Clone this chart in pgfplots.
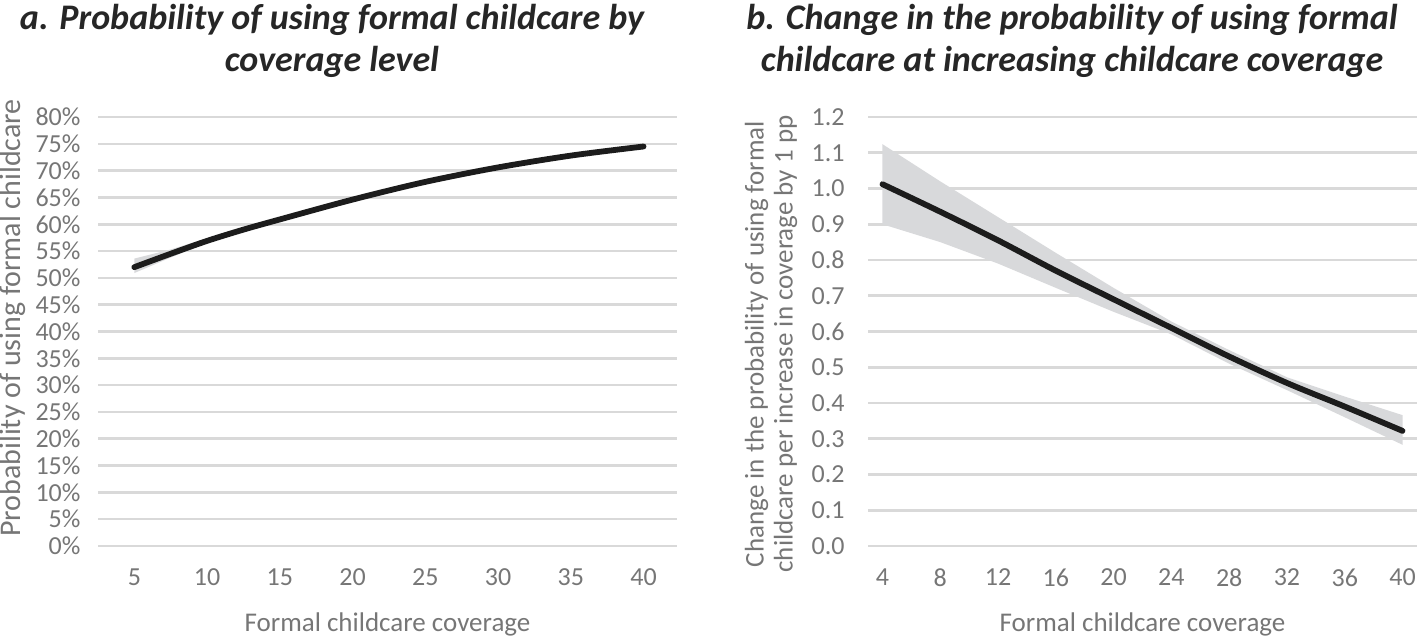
\documentclass[border=0pt]{standalone}
\usepackage{pgfplots}
\pgfplotsset{compat=1.18}
\usepackage{fontspec}
\setmainfont{Carlito}
\definecolor{tickgray}{HTML}{767676}
\definecolor{gridgray}{HTML}{D9D9D9}
\definecolor{bandgray}{HTML}{D8D9DB}
\definecolor{linecol}{HTML}{1C1C1C}
\definecolor{titlecol}{HTML}{262626}

\pgfplotstableread{
x   y
5   52.0
7.5 54.5
10  56.9
12.5 59.0
15  60.9
20  64.6
25  67.9
30  70.6
35  72.8
40  74.5
}\leftline

% band polygon: upper bound forward, lower bound backward
\pgfplotstableread{
x   y
5   53.6
7.5 55.3
10  57.4
12.5 59.2
15  61.0
20  64.7
25  68.0
30  70.7
35  72.9
40  74.6
40  74.4
35  72.7
30  70.5
25  67.8
20  64.5
15  60.8
12.5 58.8
10  56.5
7.5 53.8
5   50.9
}\leftband

\pgfplotstableread{
x   y
4   1.012
8   0.935
12  0.855
16  0.770
20  0.690
24  0.610
28  0.530
32  0.456
36  0.390
40  0.322
}\rightline

\pgfplotstableread{
x   y
4   1.124
8   1.020
12  0.920
16  0.820
20  0.722
24  0.628
28  0.548
32  0.472
36  0.418
40  0.366
40  0.283
36  0.360
32  0.436
28  0.510
24  0.592
20  0.655
16  0.722
12  0.790
8   0.850
4   0.900
}\rightband

\pgfplotsset{
  panel/.style={
    scale only axis,
    height=429bp,
    axis line style={draw=none},
    major tick style={draw=none},
    ymajorgrids,
    grid style={gridgray, line width=2.6bp},
    ticklabel style={font=\fontsize{26bp}{30bp}\selectfont, text=tickgray},
    /pgf/number format/assume math mode=true,
    xticklabel style={yshift=-19bp},
  }
}

\begin{document}
\begin{tikzpicture}
\useasboundingbox (0bp,0bp) rectangle (1417bp,636bp);

% Left panel
\begin{axis}[panel,
  at={(98bp,90bp)}, anchor=south west, width=579bp,
  xmin=2.5, xmax=42.3, ymin=0, ymax=80,
  xtick={5,10,...,40},
  ytick={0,5,...,80},
  yticklabel={\pgfmathprintnumber{\tick}\%},
  yticklabel style={xshift=-14bp},
]
\addplot[fill=bandgray, draw=none] table[x=x,y=y]{\leftband} -- cycle;
\addplot[linecol, line width=5.8bp, smooth, line cap=round] table[x=x,y=y]{\leftline};
\end{axis}

% Right panel
\begin{axis}[panel,
  at={(868bp,90bp)}, anchor=south west, width=549bp,
  xmin=3, xmax=41, ymin=0, ymax=1.2,
  xtick={4,8,...,40},
  ytick={0,0.1,0.2,0.3,0.4,0.5,0.6,0.7,0.8,0.9,1.0,1.1,1.2},
  yticklabel style={xshift=-20bp, /pgf/number format/.cd, fixed, fixed zerofill, precision=1},
]
\addplot[fill=bandgray, draw=none] table[x=x,y=y]{\rightband} -- cycle;
\addplot[linecol, line width=5.8bp, smooth, line cap=round] table[x=x,y=y]{\rightline};
\end{axis}

% Titles
\begin{scope}[every node/.style={text=titlecol, font=\fontsize{36bp}{42bp}\selectfont\bfseries\itshape}]
\node at (332bp,616bp) {a. Probability of using formal childcare by};
\node at (332bp,574bp) {coverage level};
\node at (1072bp,616bp) {b. Change in the probability of using formal};
\node at (1072bp,574bp) {childcare at increasing childcare coverage};
\end{scope}

% Axis labels
\begin{scope}[every node/.style={text=tickgray}]
\node[font=\fontsize{27bp}{31bp}\selectfont] at (387.5bp,12bp) {Formal childcare coverage};
\node[font=\fontsize{27bp}{31bp}\selectfont] at (1142.5bp,12bp) {Formal childcare coverage};
\node[rotate=90, font=\fontsize{30bp}{34bp}\selectfont] at (13bp,318bp) {Probability of using formal childcare};
\node[rotate=90, align=center, font=\fontsize{27bp}{29bp}\selectfont] at (771bp,292bp) {Change in the probability of using formal\\childcare per increase in coverage by 1 pp};
\end{scope}
\end{tikzpicture}
\end{document}
